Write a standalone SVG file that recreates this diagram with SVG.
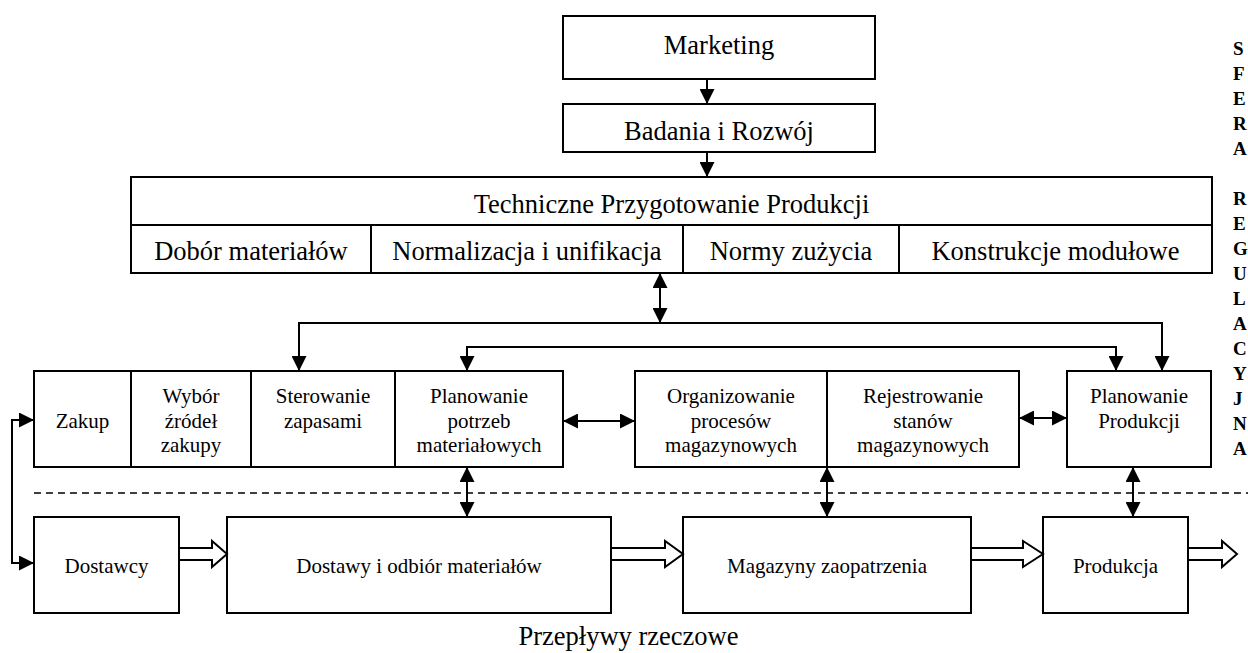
<svg xmlns="http://www.w3.org/2000/svg" width="1248" height="653" viewBox="0 0 1248 653">
<defs>
<style>
.box{fill:#fff;stroke:#000;stroke-width:2}
.div{stroke:#000;stroke-width:2}
.t{font-family:"Liberation Serif","Times New Roman",serif;fill:#000;text-anchor:middle}
.big{font-size:26.5px}
.mid{font-size:21px}
.side{font-family:"Liberation Serif","Times New Roman",serif;font-weight:bold;font-size:19px;fill:#000}
.conn{stroke:#000;stroke-width:2;fill:none;marker-start:url(#ah);marker-end:url(#ah)}
.one{stroke:#000;stroke-width:2;fill:none;marker-end:url(#ah)}
.hollow{fill:#fff;stroke:#000;stroke-width:2;stroke-linejoin:miter}
</style>
<marker id="ah" viewBox="0 0 15 15" refX="15" refY="7.5" markerWidth="15" markerHeight="15" markerUnits="userSpaceOnUse" orient="auto-start-reverse">
<path d="M0,0 L15,7.5 L0,15 z" fill="#000"/>
</marker>
</defs>
<rect width="1248" height="653" fill="#fff"/>

<g id="marketing">
<rect class="box" x="563" y="16" width="312" height="63"/>
<text class="t big" x="719" y="54">Marketing</text>
</g>
<g id="badania">
<rect class="box" x="563" y="104" width="312" height="48"/>
<text class="t big" x="719" y="140">Badania i Rozwój</text>
</g>
<g id="tpp">
<rect class="box" x="131" y="177" width="1081" height="96"/>
<line class="div" x1="131" y1="225" x2="1212" y2="225"/>
<line class="div" x1="371" y1="225" x2="371" y2="273"/>
<line class="div" x1="683" y1="225" x2="683" y2="273"/>
<line class="div" x1="899" y1="225" x2="899" y2="273"/>
<text class="t big" x="671.5" y="213">Techniczne Przygotowanie Produkcji</text>
<text class="t big" x="251" y="260">Dobór materiałów</text>
<text class="t big" x="527" y="260">Normalizacja i unifikacja</text>
<text class="t big" x="791" y="260">Normy zużycia</text>
<text class="t big" x="1055.5" y="260">Konstrukcje modułowe</text>
</g>

<g id="zaopatrzenie">
<rect class="box" x="34" y="371" width="529" height="96"/>
<line class="div" x1="131" y1="371" x2="131" y2="467"/>
<line class="div" x1="251" y1="371" x2="251" y2="467"/>
<line class="div" x1="395" y1="371" x2="395" y2="467"/>
<text class="t mid" x="82.5" y="428">Zakup</text>
<text class="t mid" x="191" y="403">Wybór</text>
<text class="t mid" x="191" y="428">źródeł</text>
<text class="t mid" x="191" y="452">zakupy</text>
<text class="t mid" x="323" y="403">Sterowanie</text>
<text class="t mid" x="323" y="428">zapasami</text>
<text class="t mid" x="479" y="403">Planowanie</text>
<text class="t mid" x="479" y="428">potrzeb</text>
<text class="t mid" x="479" y="452">materiałowych</text>
</g>
<g id="magazyn">
<rect class="box" x="635" y="371" width="384" height="96"/>
<line class="div" x1="827" y1="371" x2="827" y2="467"/>
<text class="t mid" x="731" y="403">Organizowanie</text>
<text class="t mid" x="731" y="428">procesów</text>
<text class="t mid" x="731" y="452">magazynowych</text>
<text class="t mid" x="923" y="403">Rejestrowanie</text>
<text class="t mid" x="923" y="428">stanów</text>
<text class="t mid" x="923" y="452">magazynowych</text>
</g>
<g id="planowanie-produkcji">
<rect class="box" x="1067" y="371" width="144" height="96"/>
<text class="t mid" x="1139" y="403">Planowanie</text>
<text class="t mid" x="1139" y="428">Produkcji</text>
</g>

<g id="dostawcy">
<rect class="box" x="34" y="517" width="145" height="96"/>
<text class="t mid" x="106.5" y="573">Dostawcy</text>
</g>
<g id="dostawy">
<rect class="box" x="227" y="517" width="384" height="96"/>
<text class="t mid" x="419" y="573">Dostawy i odbiór materiałów</text>
</g>
<g id="magazyny">
<rect class="box" x="683" y="517" width="288" height="96"/>
<text class="t mid" x="827" y="573">Magazyny zaopatrzenia</text>
</g>
<g id="produkcja">
<rect class="box" x="1043" y="517" width="145" height="96"/>
<text class="t mid" x="1115.5" y="573">Produkcja</text>
</g>

<g id="connectors">
<path class="one" d="M707,79 V104"/>
<path class="one" d="M707,152 V177"/>
<path class="conn" d="M660,273 V323"/>
<path class="conn" d="M299,371 V323 H1162 V371"/>
<path class="conn" d="M467,371 V347 H1116 V371"/>
<path class="conn" d="M563,421 H635"/>
<path class="conn" d="M1019,418 H1067"/>
<path class="conn" d="M467,467 V517"/>
<path class="conn" d="M827,467 V517"/>
<path class="conn" d="M1133,467 V517"/>
<path class="conn" d="M34,420 H12 V563 H34"/>
<line x1="34" y1="493" x2="1248" y2="493" stroke="#000" stroke-width="1.6" stroke-dasharray="7 5"/>
<polygon class="hollow" points="179,548 212,548 212,541 227,554 212,567 212,560 179,560"/>
<polygon class="hollow" points="611,548 665,548 665,541 683,554 665,567 665,560 611,560"/>
<polygon class="hollow" points="971,548 1023,548 1023,541 1043,554 1023,567 1023,560 971,560"/>
<polygon class="hollow" points="1188,548 1222,548 1222,541 1237,554 1222,567 1222,560 1188,560"/>
</g>

<g id="sfera">
<text class="side" x="1233" y="55">S</text>
<text class="side" x="1233" y="80">F</text>
<text class="side" x="1233" y="105">E</text>
<text class="side" x="1233" y="130">R</text>
<text class="side" x="1233" y="155">A</text>
<text class="side" x="1233" y="205">R</text>
<text class="side" x="1233" y="230">E</text>
<text class="side" x="1233" y="255">G</text>
<text class="side" x="1233" y="280">U</text>
<text class="side" x="1233" y="305">L</text>
<text class="side" x="1233" y="330">A</text>
<text class="side" x="1233" y="355">C</text>
<text class="side" x="1233" y="380">Y</text>
<text class="side" x="1233" y="405">J</text>
<text class="side" x="1233" y="430">N</text>
<text class="side" x="1233" y="455">A</text>
</g>

<g id="caption">
<text class="t big" x="628.5" y="645">Przepływy rzeczowe</text>
</g>
</svg>
